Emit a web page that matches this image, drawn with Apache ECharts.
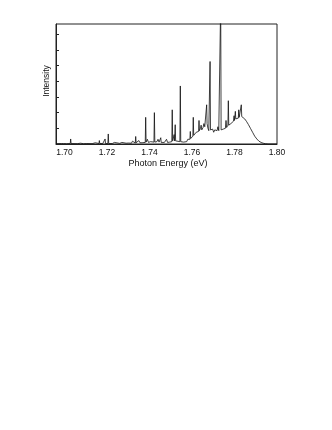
<!DOCTYPE html>
<html>
<head>
<meta charset="utf-8">
<script src="https://cdn.jsdelivr.net/npm/echarts@6/dist/echarts.min.js"></script>
<style>
	html, body { margin: 0; padding: 0; background: #fff; }
	#chart { width: 332px; height: 430px; }
</style>
</head>
<body>
<div id="chart"></div>
<script>
// photon energy (eV) and intensity
var spectrum = [
	[1.6960, 0.02], [1.6985, 0.03], [1.6990, 0.10], [1.6995, 0.03],
	[1.7010, 0.02], [1.7027, 0.03], [1.7029, 0.32], [1.7031, 0.03],
	[1.7060, 0.02], [1.7075, 0.05], [1.7090, 0.02],
	[1.7105, 0.03], [1.7108, 0.10], [1.7111, 0.03],
	[1.7130, 0.02], [1.7145, 0.08], [1.7150, 0.02],
	[1.7162, 0.03], [1.7164, 0.22], [1.7166, 0.03],
	[1.7180, 0.03], [1.7189, 0.03], [1.7191, 0.32], [1.7193, 0.03],
	[1.7204, 0.03], [1.7206, 0.64], [1.7208, 0.03],
	[1.7225, 0.03], [1.7235, 0.10], [1.7240, 0.03],
	[1.7260, 0.04], [1.7270, 0.10], [1.7275, 0.04],
	[1.7290, 0.05], [1.7300, 0.06],
	[1.7315, 0.05], [1.7320, 0.18], [1.7325, 0.06],
	[1.7333, 0.06], [1.7335, 0.48], [1.7337, 0.08],
	[1.7345, 0.10], [1.7350, 0.22], [1.7355, 0.08], [1.7365, 0.08],
	[1.7380, 0.10], [1.7382, 1.70], [1.7384, 0.12],
	[1.7390, 0.30], [1.7395, 0.10], [1.7405, 0.15], [1.7410, 0.08],
	[1.7421, 0.12], [1.7423, 2.00], [1.7425, 0.12],
	[1.7435, 0.15], [1.7440, 0.30], [1.7445, 0.12],
	[1.7451, 0.10], [1.7453, 0.40], [1.7455, 0.10],
	[1.7470, 0.10], [1.7480, 0.30], [1.7485, 0.10], [1.7495, 0.12],
	[1.7505, 0.15], [1.7507, 2.18], [1.7509, 0.20],
	[1.7514, 0.30], [1.7516, 0.60], [1.7518, 0.20],
	[1.7519, 0.20], [1.7521, 1.23], [1.7523, 0.20],
	[1.7532, 0.15],
	[1.7543, 0.15], [1.7545, 3.70], [1.7547, 0.15],
	[1.7560, 0.12], [1.7575, 0.15], [1.7580, 0.30], [1.7585, 0.20],
	[1.7590, 0.30], [1.7592, 0.80], [1.7594, 0.35], [1.7598, 0.45],
	[1.7604, 0.50], [1.7606, 1.70], [1.7608, 0.55],
	[1.7615, 0.60], [1.7620, 0.75], [1.7625, 0.65],
	[1.7631, 0.80], [1.7633, 1.50], [1.7635, 0.85],
	[1.7640, 1.00], [1.7643, 1.20], [1.7646, 0.90],
	[1.7652, 1.05], [1.7656, 1.30], [1.7660, 1.10],
	[1.7667, 1.20], [1.7669, 2.50], [1.7671, 1.30],
	[1.7675, 1.00], [1.7679, 0.85],
	[1.7683, 0.90], [1.7685, 5.26], [1.7687, 0.90],
	[1.7692, 0.80], [1.7697, 0.95], [1.7702, 0.75], [1.7707, 0.90], [1.7712, 0.80],
	[1.7718, 0.85], [1.7722, 1.10], [1.7726, 0.85],
	[1.7733, 0.90], [1.7735, 9.00], [1.7737, 0.90],
	[1.7742, 0.80], [1.7747, 0.95], [1.7752, 0.85],
	[1.7757, 1.00], [1.7760, 1.50], [1.7763, 1.05],
	[1.7769, 1.20], [1.7771, 2.76], [1.7773, 1.20],
	[1.7778, 1.15], [1.7783, 1.30], [1.7788, 1.25],
	[1.7795, 1.45], [1.7798, 1.80], [1.7800, 1.50],
	[1.7802, 1.55], [1.7804, 2.08], [1.7806, 1.60], [1.7812, 1.70],
	[1.7818, 1.65], [1.7820, 2.18], [1.7822, 1.70], [1.7826, 1.75],
	[1.7830, 1.75], [1.7832, 2.50], [1.7834, 1.75],
	[1.7840, 1.72], [1.7848, 1.60], [1.7856, 1.45], [1.7865, 1.25],
	[1.7875, 1.00], [1.7885, 0.75], [1.7895, 0.50], [1.7905, 0.32],
	[1.7915, 0.18], [1.7925, 0.10], [1.7935, 0.05], [1.7945, 0.02],
	[1.7958, 0.00], [1.8000, 0.00]
];
var xTicks = [1.70, 1.72, 1.74, 1.76, 1.78, 1.80];
var yTicks = [0, 1, 2, 3, 4, 5, 6, 7];

var font = 'Liberation Sans, Arial, sans-serif';
var chart = echarts.init(document.getElementById('chart'));

chart.setOption({
	animation: false,
	backgroundColor: '#fff',
	grid: {
		left: 56,
		right: 55,
		top: 24,
		bottom: 286,
		show: true,
		borderColor: '#222',
		borderWidth: 1
	},
	xAxis: {
		type: 'value',
		min: 1.696,
		max: 1.80,
		name: 'Photon Energy (eV)',
		nameLocation: 'middle',
		nameGap: 15,
		nameTextStyle: { fontFamily: font, fontSize: 9, color: '#111', padding: [0, 0, 0, 3] },
		axisLine: { show: true, lineStyle: { color: '#222', width: 1 } },
		axisTick: { show: false },
		splitLine: { show: false },
		axisLabel: {
			customValues: xTicks,
			fontFamily: font,
			fontSize: 8.5,
			color: '#111',
			margin: 4,
			formatter: function (v) { return v.toFixed(2); }
		}
	},
	yAxis: {
		type: 'value',
		min: 0,
		max: 7.65,
		name: 'Intensity',
		nameLocation: 'middle',
		nameGap: 5,
		nameTextStyle: { fontFamily: font, fontSize: 8.5, color: '#111', padding: [0, 0, 0, 6] },
		axisLine: { show: true, lineStyle: { color: '#222', width: 1 } },
		axisTick: {
			show: true,
			inside: true,
			length: 3,
			customValues: yTicks,
			lineStyle: { color: '#222' }
		},
		axisLabel: { show: false },
		splitLine: { show: false }
	},
	series: [{
		type: 'line',
		data: spectrum,
		showSymbol: false,
		symbol: 'none',
		clip: true,
		lineStyle: { color: '#111', width: 0.8 }
	}]
});
</script>
</body>
</html>
